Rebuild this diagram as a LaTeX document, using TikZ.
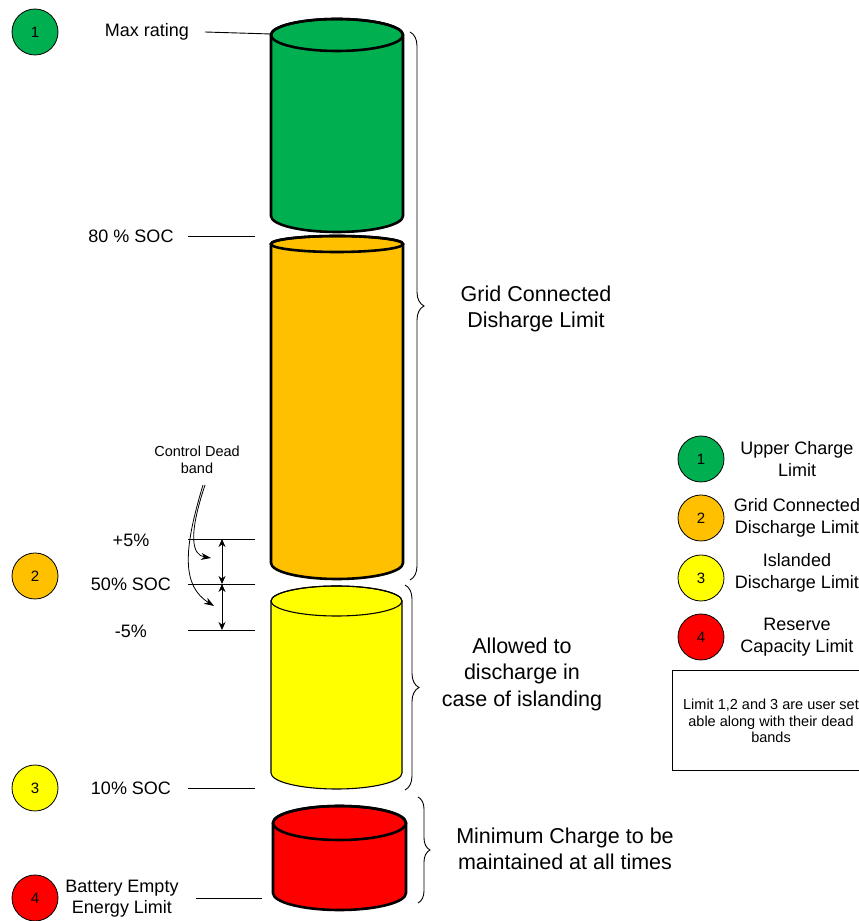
\documentclass[tikz,border=0pt]{standalone}
\usepackage{fontspec}
\setmainfont{Liberation Sans}
\usetikzlibrary{decorations.pathreplacing,arrows.meta}

\definecolor{lvgreen}{HTML}{00B050}
\definecolor{lvorange}{HTML}{FFC000}
\definecolor{lvyellow}{HTML}{FFFF00}
\definecolor{lvred}{HTML}{FF0000}

% cylinder: centre x, radius x, top y, top radius y, bottom y, bottom radius y, fill, line width
\newcommand\battcyl[8]{%
  \filldraw[fill=#7, line width=#8]
    (#1-#2,#3) -- (#1-#2,#5)
    arc[start angle=180, end angle=360, x radius=#2pt, y radius=#6pt]
    -- (#1+#2,#3)
    arc[start angle=0, end angle=180, x radius=#2pt, y radius=#4pt] -- cycle;
  \draw[line width=#8] (#1,#3) ellipse[x radius=#2pt, y radius=#4pt];
}

\tikzset{
  num/.style={circle, draw, line width=0.8pt, minimum size=46pt, inner sep=0pt,
              font=\fontsize{15}{17}\selectfont},
  lbl/.style={font=\fontsize{18}{21}\selectfont, align=center, inner sep=0pt},
  big/.style={font=\fontsize{21.5}{26.5}\selectfont, align=center, inner sep=0pt},
  leg/.style={font=\fontsize{18}{21.5}\selectfont, align=center, inner sep=0pt},
  small/.style={font=\fontsize{14.5}{17}\selectfont, align=center, inner sep=0pt},
  leader/.style={line width=0.9pt},
  brc/.style={decorate, decoration={brace, amplitude=#1}, line width=0.9pt},
  dbl/.style={line width=0.9pt, {Stealth[length=8pt,width=7pt]}-{Stealth[length=8pt,width=7pt]}},
  crv/.style={line width=0.8pt, -{Stealth[length=10pt,width=7pt]}},
}

\begin{document}
\begin{tikzpicture}[x=1pt, y=1pt]
\useasboundingbox (0,0) rectangle (859,921);
\clip (0,0) rectangle (859,921);

% battery sections
\battcyl{337}{66}{886}{16}{705}{16}{lvgreen}{2.6pt}
\battcyl{337}{66}{677}{8}{358}{16}{lvorange}{2.6pt}
\battcyl{336.5}{65.5}{320}{15}{148}{16}{lvyellow}{1.1pt}
\battcyl{339.5}{66.5}{98}{17}{28}{17}{lvred}{2.6pt}

% numbered markers on the left
\node[num, fill=lvgreen] (n1) at (35,889) {1};
\node[num, fill=lvorange] (n2) at (35,345) {2};
\node[num, fill=lvyellow] (n3) at (35,133) {3};
\node[num, fill=lvred] (n4) at (35,23) {4};

% level labels and leader lines
\node[lbl] (max) at (147,889) {Max rating};
\coordinate (maxa) at (205,889); \coordinate (maxb) at (271,887);
\draw[leader] (maxa) -- (maxb);

\node[lbl] (s80) at (131,685) {80 \% SOC};
\coordinate (s80a) at (188,685); \coordinate (s80b) at (255,685);
\draw[leader] (s80a) -- (s80b);

\node[lbl] (p5) at (131,381) {+5\%};
\coordinate (p5a) at (188,382); \coordinate (p5b) at (255,382);
\draw[leader] (p5a) -- (p5b);

\node[lbl] (s50) at (131,337) {50\% SOC};
\coordinate (s50a) at (188,337); \coordinate (s50b) at (255,337);
\draw[leader] (s50a) -- (s50b);

\node[lbl] (m5) at (131,290) {-5\%};
\coordinate (m5a) at (188,291); \coordinate (m5b) at (255,291);
\draw[leader] (m5a) -- (m5b);

\node[lbl] (s10) at (131,133) {10\% SOC};
\coordinate (s10a) at (188,133); \coordinate (s10b) at (255,133);
\draw[leader] (s10a) -- (s10b);

\node[lbl] (empty) at (122,22) {Battery Empty\\Energy Limit};
\coordinate (empa) at (196,23); \coordinate (empb) at (262,23);
\draw[leader] (empa) -- (empb);

% dead band
\coordinate (dbt) at (222,382);
\coordinate (dbm) at (222,337);
\coordinate (dbb) at (222,291);
\draw[dbl] (dbt) -- (dbm);
\draw[dbl] (dbm) -- (dbb);

\node[small] (cdb) at (197,461) {Control Dead\\band};
\coordinate (cdba) at (205,436);
\coordinate (cdbb) at (203,436);
\coordinate (tipa) at (211,363);
\coordinate (tipb) at (214,315);
\draw[crv] (cdba) .. controls (188,385) and (192,366) .. (tipa);
\draw[crv] (cdbb) .. controls (183,370) and (182,335) .. (tipb);

% braces and range descriptions
\coordinate (b1t) at (410,889); \coordinate (b1b) at (410,341);
\draw[brc=14pt] (b1t) -- (b1b);
\coordinate (b2t) at (405,336); \coordinate (b2b) at (405,131);
\draw[brc=14pt] (b2t) -- (b2b);
\coordinate (b3t) at (418,124); \coordinate (b3b) at (418,18);
\draw[brc=12pt] (b3t) -- (b3b);

\node[big] (gcd) at (536,612) {Grid Connected\\Disharge Limit};
\node[big] (isl) at (522,247) {Allowed to\\discharge in\\case of islanding};
\node[big] (minc) at (565,72) {Minimum Charge to be\\maintained at all times};

% legend
\node[num, fill=lvgreen] (l1) at (701,462) {1};
\node[num, fill=lvorange] (l2) at (701,403) {2};
\node[num, fill=lvyellow] (l3) at (701,343) {3};
\node[num, fill=lvred] (l4) at (701,284) {4};
\node[leg] (t1) at (797,462) {Upper Charge\\Limit};
\node[leg] (t2) at (797,403) {Grid Connected\\Discharge Limit};
\node[leg] (t3) at (797,348) {Islanded\\Discharge Limit};
\node[leg] (t4) at (797,284) {Reserve\\Capacity Limit};

\node[draw, line width=0.8pt, minimum width=198pt, minimum height=100pt, inner sep=0pt] (note) at (771,201) {};
\node[small, font=\fontsize{14.5}{16.5}\selectfont] (notet) at (771,200) {Limit 1,2 and 3 are user set\\able along with their dead\\bands};
\end{tikzpicture}
\end{document}
